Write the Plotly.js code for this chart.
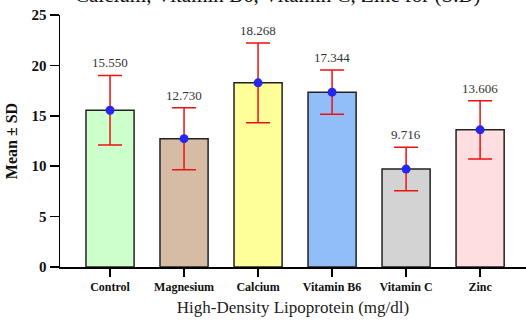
<!DOCTYPE html>
<html><head><meta charset="utf-8">
<script src="https://cdn.plot.ly/plotly-3.0.1.min.js"></script>
<style>html,body{margin:0;padding:0;background:#fff}#chart{width:526px;height:322px}</style>
</head><body><div id="chart"></div>
<script>
const categories = ["Control","Magnesium","Calcium","Vitamin B6","Vitamin C","Zinc"];
const means = [15.550, 12.730, 18.268, 17.344, 9.716, 13.606];
const sds = [3.45, 3.08, 3.95, 2.20, 2.16, 2.88];
const barColors = ["#CCFFCC","#D6BCA5","#FFFF99","#91BEF8","#D3D3D3","#FFDEE1"];
const titleText = "Calcium, Vitamin B6, Vitamin C, Zinc for (S.D)";
const serif = "Times New Roman, Liberation Serif, serif";

const xs = categories.map((c,i)=>i);
const bars = {
  type:"bar", x: xs, y: means, width: 0.65,
  marker:{color: barColors, line:{color:"#222", width:1.5}},
  hoverinfo:"skip", showlegend:false
};
const pts = {
  type:"scatter", mode:"markers", x: xs, y: means,
  marker:{color:"#2626EE", size:9},
  error_y:{type:"data", array: sds, visible:true, color:"#EE1111", thickness:1.5, width:12},
  showlegend:false, cliponaxis:false
};
const anns = means.map((m,i)=>({
  x: i, y: m + sds[i], xref:"x", yref:"y", text: m.toFixed(3),
  showarrow:false, yanchor:"bottom", yshift:3,
  font:{family:serif, size:13, color:"#333"}
}));
anns.push({
  x: 0.467, y: 1, xref:"paper", yref:"paper", text: titleText, showarrow:false,
  yanchor:"bottom", yshift:6, font:{family:serif, size:21, color:"#111"}
});
const layout = {
  width:526, height:322,
  margin:{l:60, r:0, t:15, b:55},
  paper_bgcolor:"#fff", plot_bgcolor:"#fff",
  font:{family:serif},
  xaxis:{
    range:[-0.676, 5.62], tickmode:"array", tickvals: xs, ticktext: categories,
    showline:true, linecolor:"#000", linewidth:1.5, ticks:"outside", ticklen:8, tickwidth:1.5, tickcolor:"#000",
    showgrid:false, zeroline:false,
    tickfont:{family:serif, size:12, color:"#111", weight:"bold"},
    title:{text:"High-Density Lipoprotein (mg/dl)", font:{family:serif, size:17, color:"#222"}, standoff:8}
  },
  yaxis:{
    range:[0,25], tickvals:[0,5,10,15,20,25],
    showline:true, linecolor:"#000", linewidth:1.5, ticks:"outside", ticklen:9, tickwidth:1.5, tickcolor:"#000",
    showgrid:false, zeroline:false,
    tickfont:{family:serif, size:15, color:"#111", weight:"bold"},
    title:{text:"Mean ± SD", font:{family:serif, size:16, color:"#111", weight:"bold"}, standoff:10}
  },
  annotations: anns,
  bargap:0.35
};
Plotly.newPlot("chart", [bars, pts], layout, {displayModeBar:false, staticPlot:true});
</script></body></html>
